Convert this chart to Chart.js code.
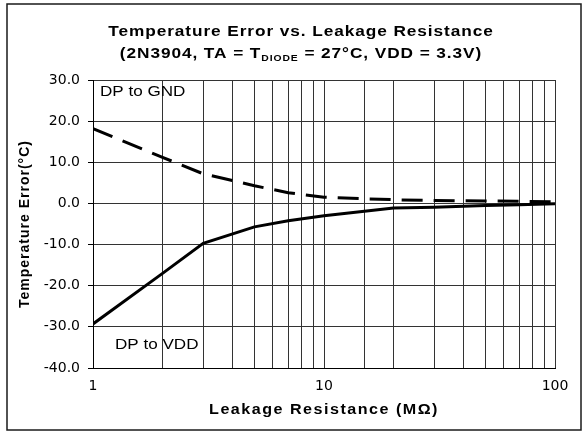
<!DOCTYPE html>
<html>
<head>
<meta charset="utf-8">
<script src="https://cdn.jsdelivr.net/npm/chart.js@4.4.1/dist/chart.umd.min.js"></script>
<style>
  html, body { margin: 0; padding: 0; background: #fff; }
  #wrap { width: 587px; height: 433px; position: relative; }
</style>
</head>
<body>
<div id="wrap"><canvas id="c" width="587" height="433"></canvas></div>
<script>
// ---- data ----
const resistanceMOhm = [1, 2, 3, 5, 7, 10, 20, 30, 50, 70, 100];
const errDpToGnd = [18.2, 11.2, 7.2, 4.3, 2.6, 1.5, 0.9, 0.7, 0.6, 0.5, 0.4];
const errDpToVdd = [-29.3, -17.0, -9.7, -5.7, -4.2, -3.0, -1.1, -0.9, -0.5, -0.3, -0.1];
const xTickLabels = [1, 10, 100];
const yMin = -40, yMax = 30, yStep = 10;

const titleLine1 = 'Temperature Error vs. Leakage Resistance';
const titleLine2a = '(2N3904, TA = T';
const titleLine2sub = 'DIODE';
const titleLine2b = ' = 27°C, VDD = 3.3V)';
const xTitle = 'Leakage Resistance (MΩ)';
const yTitle = 'Temperature Error(°C)';
const labelGnd = 'DP to GND';
const labelVdd = 'DP to VDD';

const toPoints = ys => resistanceMOhm.map((x, i) => ({ x: x, y: ys[i] }));

function drawStretched(ctx, text, x, y, sx, align) {
  ctx.save();
  ctx.translate(x, y);
  ctx.scale(sx, 1);
  ctx.textAlign = align || 'left';
  ctx.fillText(text, 0, 0);
  ctx.restore();
}

const decor = {
  id: 'decor',
  afterDraw(chart) {
    const ctx = chart.ctx;
    const area = chart.chartArea;
    const xs = chart.scales.x, ys = chart.scales.y;
    ctx.save();
    // outer frame
    ctx.strokeStyle = '#1a1a1a';
    ctx.lineWidth = 1.5;
    ctx.strokeRect(7, 4, 574, 426);

    ctx.fillStyle = '#000';
    ctx.textBaseline = 'alphabetic';

    // title line 1
    const sxT = 1.15;
    ctx.font = 'bold 15px "Liberation Sans", Arial, sans-serif';
    ctx.letterSpacing = '0.8px';
    drawStretched(ctx, titleLine1, 301, 36, sxT, 'center');

    // title line 2 with subscript
    ctx.font = 'bold 15px "Liberation Sans", Arial, sans-serif';
    const wA = ctx.measureText(titleLine2a).width;
    const wB = ctx.measureText(titleLine2b).width;
    ctx.font = 'bold 9px "Liberation Sans", Arial, sans-serif';
    const wS = ctx.measureText(titleLine2sub).width;
    const total = (wA + wS + wB) * sxT;
    let x0 = 301 - total / 2;
    ctx.font = 'bold 15px "Liberation Sans", Arial, sans-serif';
    drawStretched(ctx, titleLine2a, x0, 58, sxT, 'left');
    x0 += wA * sxT;
    ctx.font = 'bold 9px "Liberation Sans", Arial, sans-serif';
    drawStretched(ctx, titleLine2sub, x0, 61, sxT, 'left');
    x0 += wS * sxT;
    ctx.font = 'bold 15px "Liberation Sans", Arial, sans-serif';
    drawStretched(ctx, titleLine2b, x0, 58, sxT, 'left');

    // x axis title
    ctx.font = 'bold 14px "Liberation Sans", Arial, sans-serif';
    ctx.letterSpacing = '1.3px';
    ctx.textBaseline = 'middle';
    drawStretched(ctx, xTitle, (area.left + area.right) / 2, 410, 1.15, 'center');

    // y axis title (rotated)
    ctx.letterSpacing = '1px';
    ctx.save();
    ctx.translate(25, (area.top + area.bottom) / 2);
    ctx.rotate(-Math.PI / 2);
    ctx.textAlign = 'center';
    ctx.fillText(yTitle, 0, 0);
    ctx.restore();

    // series annotations
    ctx.letterSpacing = '0px';
    ctx.font = '14px "Liberation Sans", Arial, sans-serif';
    ctx.textBaseline = 'middle';
    drawStretched(ctx, labelGnd, area.left + 7, 92, 1.22, 'left');
    drawStretched(ctx, labelVdd, area.left + 22, 345, 1.22, 'left');
    ctx.restore();
  }
};

new Chart(document.getElementById('c'), {
  type: 'line',
  data: {
    datasets: [
      {
        label: labelGnd,
        data: toPoints(errDpToGnd),
        borderColor: '#000',
        borderWidth: 3,
        borderDash: [21, 11],
        pointRadius: 0,
        tension: 0,
        fill: false
      },
      {
        label: labelVdd,
        data: toPoints(errDpToVdd),
        borderColor: '#000',
        borderWidth: 3,
        pointRadius: 0,
        tension: 0,
        fill: false
      }
    ]
  },
  options: {
    responsive: false,
    animation: false,
    devicePixelRatio: 1,
    layout: { padding: { left: 8, right: 32, top: 80, bottom: 0 } },
    plugins: {
      legend: { display: false },
      title: { display: false },
      tooltip: { enabled: false }
    },
    scales: {
      x: {
        type: 'logarithmic',
        min: 1,
        max: 100,
        afterFit: s => { s.height = 65; },
        grid: { color: '#333', lineWidth: 1, drawTicks: false },
        border: { color: '#000', width: 1 },
        ticks: {
          autoSkip: false,
          maxRotation: 0,
          padding: 10,
          color: '#000',
          font: { family: 'DejaVu Sans', size: 14 },
          callback: v => (xTickLabels.includes(v) ? String(v) : '')
        }
      },
      y: {
        type: 'linear',
        min: yMin,
        max: yMax,
        afterFit: s => { s.width = 85; },
        grid: { color: '#333', lineWidth: 1, drawTicks: true, tickLength: 5, tickColor: '#000' },
        border: { color: '#000', width: 1 },
        ticks: {
          stepSize: yStep,
          padding: 8,
          color: '#000',
          font: { family: 'DejaVu Sans', size: 14 },
          callback: v => Number(v).toFixed(1)
        }
      }
    }
  },
  plugins: [decor]
});
</script>
</body>
</html>
